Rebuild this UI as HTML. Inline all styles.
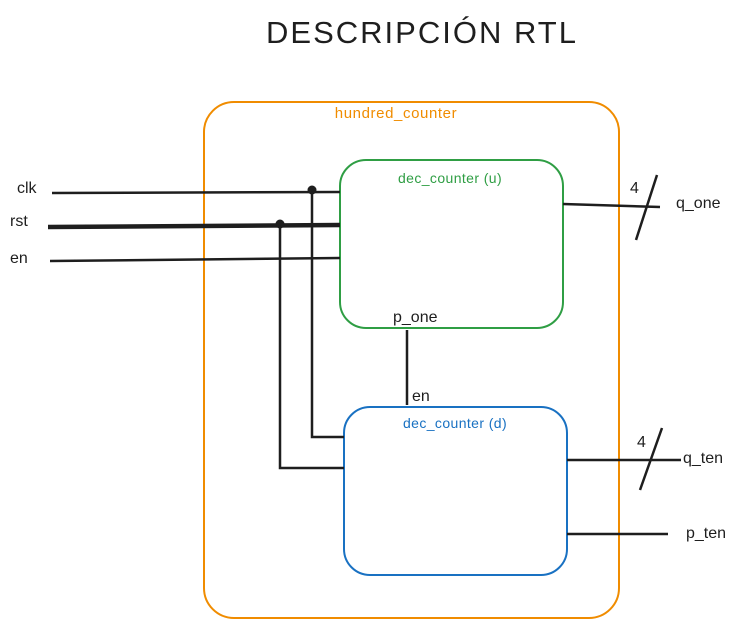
<!DOCTYPE html>
<html><head><meta charset="utf-8"><style>
html,body{margin:0;padding:0;background:#fff;}
svg{display:block;}
text{font-family:"Liberation Sans",sans-serif;}
</style></head><body>
<svg width="751" height="629" viewBox="0 0 751 629" xmlns="http://www.w3.org/2000/svg">
<rect width="751" height="629" fill="#fff"/>
<text x="422" y="43" font-size="31" text-anchor="middle" fill="#1e1e1e" letter-spacing="2">DESCRIPCIÓN RTL</text>

<rect x="204" y="102" width="415" height="516" rx="30" fill="none" stroke="#f08c00" stroke-width="2"/>
<text x="396" y="118" font-size="15" text-anchor="middle" fill="#f08c00" letter-spacing="0.6">hundred_counter</text>

<rect x="340" y="160" width="223" height="168" rx="26" fill="none" stroke="#2f9e44" stroke-width="2"/>
<text x="450" y="183" font-size="14" text-anchor="middle" fill="#2f9e44" letter-spacing="0.4">dec_counter (u)</text>

<rect x="344" y="407" width="223" height="168" rx="26" fill="none" stroke="#1971c2" stroke-width="2"/>
<text x="455" y="428" font-size="14" text-anchor="middle" fill="#1971c2" letter-spacing="0.4">dec_counter (d)</text>

<g stroke="#1e1e1e" stroke-width="2.5" fill="none">
<line x1="52" y1="193" x2="340" y2="192"/>
<line x1="48" y1="226" x2="340" y2="224"/>
<line x1="48" y1="228" x2="340" y2="226"/>
<line x1="50" y1="261" x2="340" y2="258"/>
<polyline points="312,190 312,437 344,437"/>
<polyline points="280,224 280,468 344,468"/>
<line x1="407" y1="330" x2="407" y2="405"/>
<line x1="563" y1="204" x2="660" y2="207"/>
<line x1="636" y1="240" x2="657" y2="175"/>
<line x1="567" y1="460" x2="681" y2="460"/>
<line x1="640" y1="490" x2="662" y2="428"/>
<line x1="567" y1="534" x2="668" y2="534"/>
</g>
<circle cx="312" cy="190" r="4.5" fill="#1e1e1e"/>
<circle cx="280" cy="224" r="4.5" fill="#1e1e1e"/>

<g font-size="16" fill="#1e1e1e">
<text x="17" y="193">clk</text>
<text x="10" y="226">rst</text>
<text x="10" y="263">en</text>
<text x="393" y="322">p_one</text>
<text x="412" y="401">en</text>
<text x="630" y="193">4</text>
<text x="676" y="208">q_one</text>
<text x="637" y="447">4</text>
<text x="683" y="463">q_ten</text>
<text x="686" y="538">p_ten</text>
</g>
</svg>
</body></html>
